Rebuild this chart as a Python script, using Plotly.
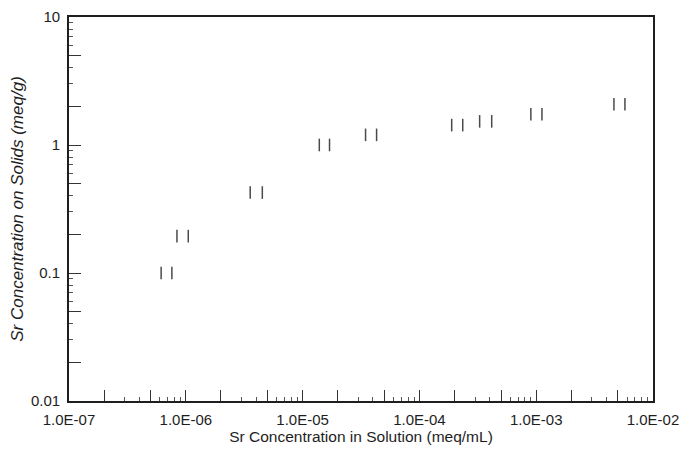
import plotly.graph_objects as go

# Replicate measurements (two per condition): solution conc. (meq/mL) and solid conc. (meq/g)
x_rep1 = [6.15e-7, 8.4e-7, 3.56e-6, 1.39e-5, 3.46e-5, 1.89e-4, 3.28e-4, 9.0e-4, 4.63e-3]
x_rep2 = [7.6e-7, 1.05e-6, 4.52e-6, 1.70e-5, 4.30e-5, 2.35e-4, 4.16e-4, 1.12e-3, 5.75e-3]
y_vals = [0.10, 0.194, 0.425, 1.0, 1.20, 1.43, 1.53, 1.74, 2.08]

x_decades = [1e-7, 1e-6, 1e-5, 1e-4, 1e-3, 1e-2]
x_decade_labels = ["1.0E-07", "1.0E-06", "1.0E-05", "1.0E-04", "1.0E-03", "1.0E-02"]
y_decades = [0.01, 0.1, 1, 10]
y_decade_labels = ["0.01", "0.1", "1", "10"]
mid_digits = [2, 5]  # intermediate ticks drawn longer than the other minor ticks


def tick_set(decades, labels):
    vals, text = [], []
    for i, (d, lab) in enumerate(zip(decades, labels)):
        vals.append(d)
        text.append(lab)
        if i < len(decades) - 1:
            for m in mid_digits:
                vals.append(d * m)
                text.append("")
    return vals, text


x_tickvals, x_ticktext = tick_set(x_decades, x_decade_labels)
y_tickvals, y_ticktext = tick_set(y_decades, y_decade_labels)

FONT = "Liberation Sans, Arial, sans-serif"
INK = "#1e1e1e"
marker = dict(symbol="line-ns", size=9, line=dict(width=1.5, color="#4a4a4a"), color="#4a4a4a")

fig = go.Figure()
fig.add_trace(go.Scatter(x=x_rep1, y=y_vals, mode="markers", marker=marker, showlegend=False))
fig.add_trace(go.Scatter(x=x_rep2, y=y_vals, mode="markers", marker=marker, showlegend=False))

fig.update_layout(
    width=679, height=448,
    margin=dict(l=61, r=34, t=9, b=55),
    paper_bgcolor="white", plot_bgcolor="white",
    font=dict(family=FONT, size=15, color=INK),
    xaxis=dict(
        type="log", range=[-7, -2], automargin=False,
        tickmode="array", tickvals=x_tickvals, ticktext=x_ticktext,
        ticks="inside", ticklen=11, tickwidth=1.2, tickcolor="#333333",
        ticklabelstandoff=4,
        minor=dict(ticks="inside", ticklen=4, dtick="D1", tickcolor="#555555", showgrid=False),
        showgrid=False, zeroline=False,
        showline=True, linecolor=INK, linewidth=1.8, mirror=True,
        tickfont=dict(size=15),
        title=dict(text="Sr Concentration in Solution (meq/mL)", font=dict(size=15.5), standoff=2),
    ),
    yaxis=dict(
        type="log", range=[-2, 1], automargin=False,
        tickmode="array", tickvals=y_tickvals, ticktext=y_ticktext,
        ticks="inside", ticklen=12, tickwidth=1.2, tickcolor="#333333",
        ticklabelstandoff=4,
        minor=dict(ticks="inside", ticklen=4, dtick="D1", tickcolor="#555555", showgrid=False),
        showgrid=False, zeroline=False,
        showline=True, linecolor=INK, linewidth=1.8, mirror=True,
        tickfont=dict(size=15),
        title=dict(text="<i>Sr Concentration on Solids (meq/g)</i>", font=dict(size=17), standoff=6),
    ),
)

fig.write_html("out.html")
